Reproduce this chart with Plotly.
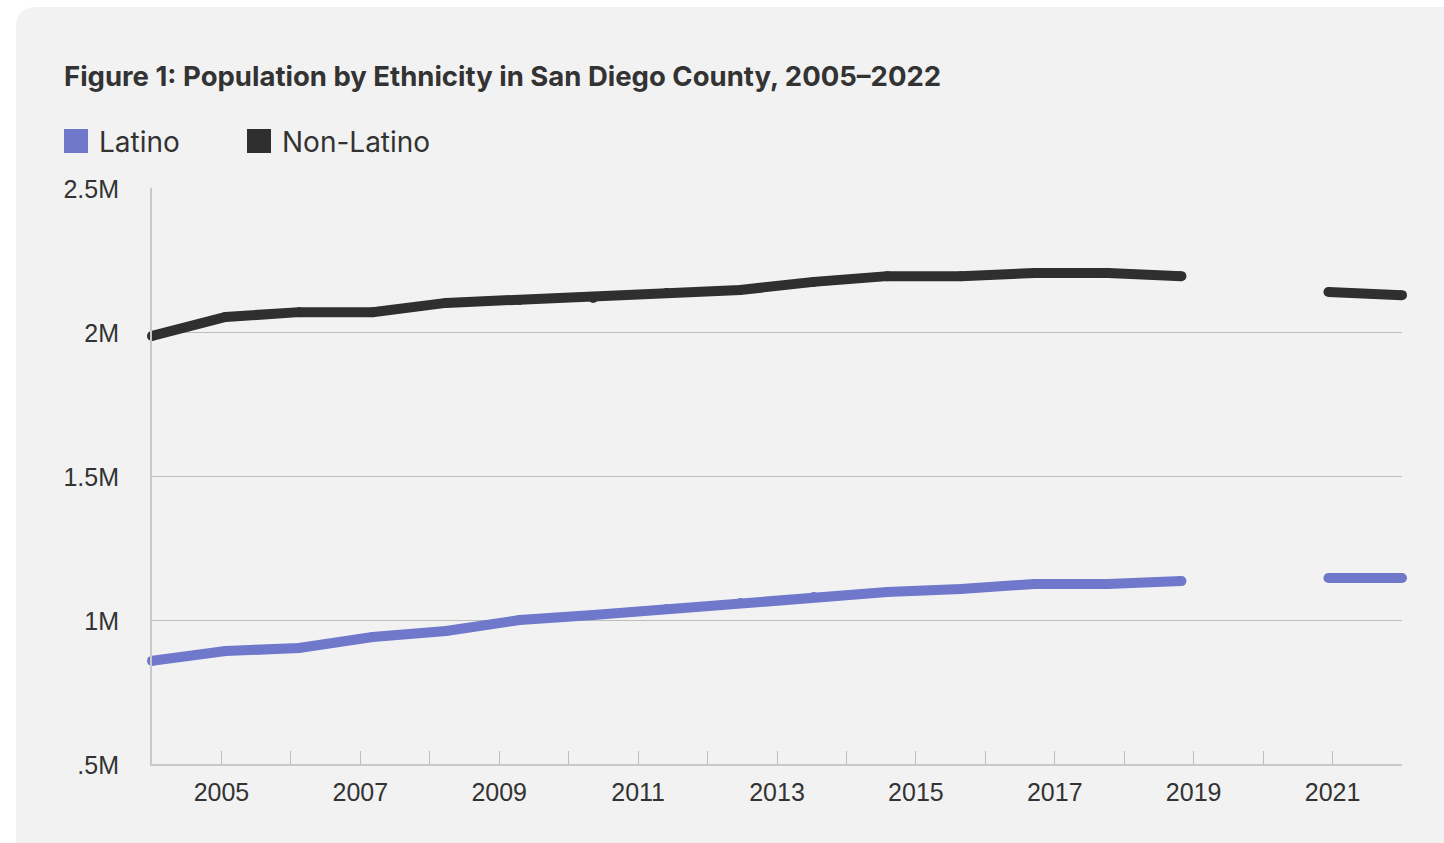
import plotly.graph_objects as go

# Population by ethnicity, San Diego County (2020 not reported)
years = list(range(2005, 2023))
latino = [858000, 892000, 903000, 941000, 962000, 1000000, 1017000, 1038000, 1059000,
          1080000, 1097000, 1108000, 1125000, 1125000, 1135000, None, 1146000, 1146000]
non_latino = [1986000, 2052000, 2069000, 2069000, 2101000, 2111000, 2118000, 2135000, 2146000,
              2174000, 2194000, 2194000, 2205000, 2205000, 2194000, None, 2139000, 2128000]

series_names = ["Latino", "Non-Latino"]
series_colors = ["#6f78cb", "#2f2f2f"]

y_ticks = [500000, 1000000, 1500000, 2000000, 2500000]
y_tick_labels = [".5M", "1M", "1.5M", "2M", "2.5M"]

axis_years = list(range(2004, 2023))
axis_year_labels = [str(y) if y % 2 == 1 else "" for y in axis_years]

title_text = "Figure 1: Population by Ethnicity in San Diego County, 2005\u20132022"

W, H = 1444, 843
L, R, T, B = 152, 42, 188, 79
PW, PH = W - L - R, H - T - B


def px_x(p):
    return (p - L) / PW


def px_y(p):
    return (H - B - p) / PH


fig = go.Figure()

for name, vals, color in zip(series_names, [latino, non_latino], series_colors):
    fig.add_trace(go.Scatter(
        x=years, y=vals, name=name, mode="lines+markers",
        line=dict(color=color, width=10),
        marker=dict(color=color, size=10, line=dict(width=0)),
        connectgaps=False, cliponaxis=False, showlegend=False,
        xaxis="x", yaxis="y",
    ))

# carrier for the labelled year axis
fig.add_trace(go.Scatter(x=[axis_years[0], axis_years[-1]], y=[None, None],
                         xaxis="x2", yaxis="y", showlegend=False, hoverinfo="skip"))

# background panel with rounded top-left corner
panel = (f"M {px_x(16)},{px_y(845)} L {px_x(16)},{px_y(28)} "
         f"Q {px_x(16)},{px_y(7)} {px_x(37)},{px_y(7)} "
         f"L {px_x(1470)},{px_y(7)} L {px_x(1470)},{px_y(845)} Z")
shapes = [dict(type="path", path=panel, xref="paper", yref="paper",
               fillcolor="#f2f2f2", line=dict(width=0), layer="below")]

annotations = []
legend_x = [64, 247]
for lx, name, color in zip(legend_x, series_names, series_colors):
    shapes.append(dict(type="rect", xref="paper", yref="paper",
                       x0=px_x(lx), x1=px_x(lx + 24), y0=px_y(153), y1=px_y(129),
                       fillcolor=color, line=dict(width=0)))
    annotations.append(dict(text=name, xref="paper", yref="paper",
                            x=px_x(lx + 33), y=px_y(142), xanchor="left", yanchor="middle",
                            showarrow=False,
                            font=dict(family="Inter", size=28, color="#333333")))

tick_font = dict(family="Liberation Sans, Arial", size=25, color="#333333")

fig.update_layout(
    width=W, height=H,
    margin=dict(l=L, r=R, t=T, b=B),
    paper_bgcolor="#ffffff",
    plot_bgcolor="rgba(0,0,0,0)",
    title=dict(text=title_text, x=64 / W, xanchor="left", xref="container",
               y=1 - 76 / H, yanchor="middle", yref="container",
               font=dict(family="Inter", size=27.5, color="#333333", weight=700)),
    xaxis=dict(range=[years[0], years[-1]], visible=False, fixedrange=True),
    xaxis2=dict(range=[axis_years[0], axis_years[-1]], overlaying="x", anchor="y", side="bottom",
                tickmode="array", tickvals=axis_years, ticktext=axis_year_labels,
                ticks="inside", ticklen=13, tickwidth=1, tickcolor="#bdbdbd",
                showline=True, linecolor="#c8c8c8", linewidth=2,
                showgrid=False, zeroline=False, tickfont=tick_font,
                ticklabelstandoff=5),
    yaxis=dict(range=[y_ticks[0], y_ticks[-1]], tickmode="array", tickvals=y_ticks,
               ticktext=y_tick_labels, ticks="", showgrid=True, gridcolor="#bdbdbd",
               gridwidth=1, showline=True, linecolor="#c8c8c8", linewidth=2,
               zeroline=False, tickfont=tick_font, ticklabelstandoff=26,
               ticklabelshift=1),
    shapes=shapes,
    annotations=annotations,
    showlegend=False,
)

fig.write_html("out.html")
